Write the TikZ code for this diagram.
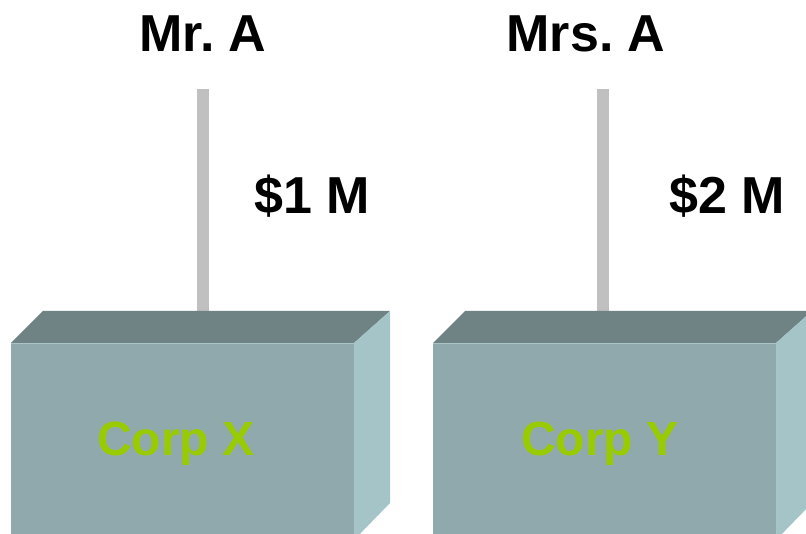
\documentclass[tikz,border=0pt]{standalone}
\usepackage{fontspec}
\setmainfont{Liberation Sans}
\usetikzlibrary{positioning,calc}

\definecolor{boxfront}{RGB}{144,169,172}
\definecolor{boxtop}{RGB}{111,131,132}
\definecolor{boxside}{RGB}{165,196,199}
\definecolor{boxedge}{RGB}{170,195,198}
\definecolor{polegray}{RGB}{192,192,192}
\definecolor{corpgreen}{RGB}{153,204,0}

\frenchspacing

\begin{document}
\begin{tikzpicture}
                    [x=1pt,y=-1pt,
                     big/.style={inner sep=0pt,anchor=base,font=\bfseries\fontsize{52}{60}\selectfont},
                     corp/.style={big,text=corpgreen,font=\bfseries\fontsize{48}{56}\selectfont},
                     pole/.style={draw=polegray,line width=12pt}]

                        \useasboundingbox (0,0) rectangle (806,534);
                        \clip (0,0) rectangle (806,534);

                        % people and the money they put in
                        \node[big] (mra) at (203,52) {Mr. A};
                        \node[big] (mrsa) at (586,52) {Mrs. A};
                        \node[big] (amtx) at (312,214) {\$1 M};
                        \node[big] (amty) at (727,214) {\$2 M};

                        \coordinate (xtop) at (203,89);
                        \coordinate (xbox) at (203,311);
                        \coordinate (ytop) at (603,89);
                        \coordinate (ybox) at (603,311);
                        \draw[pole] (xtop) -- (xbox);
                        \draw[pole] (ytop) -- (ybox);

                        % corp X
                        \fill[boxtop] (11,343) -- (43,311) -- (390,311) -- (354,343) -- cycle;
                        \fill[boxfront] (11,343) rectangle (354,540);
                        \fill[boxside] (354,343) -- (390,311) -- (390,503) -- (354,540) -- cycle;
                        \draw[boxedge,thin] (11,343.5) -- (354,343.5) -- (354,540);

                        % corp Y
                        \fill[boxtop] (433,343) -- (465,311) -- (812,311) -- (776,343) -- cycle;
                        \fill[boxfront] (433,343) rectangle (776,540);
                        \fill[boxside] (776,343) -- (812,311) -- (812,503) -- (776,540) -- cycle;
                        \draw[boxedge,thin] (433,343.5) -- (776,343.5) -- (776,540);

                        \node[corp] (corpx) at (176,456) {Corp X};
                        \node[corp] (corpy) at (600,456) {Corp Y};

                \end{tikzpicture}
\end{document}
